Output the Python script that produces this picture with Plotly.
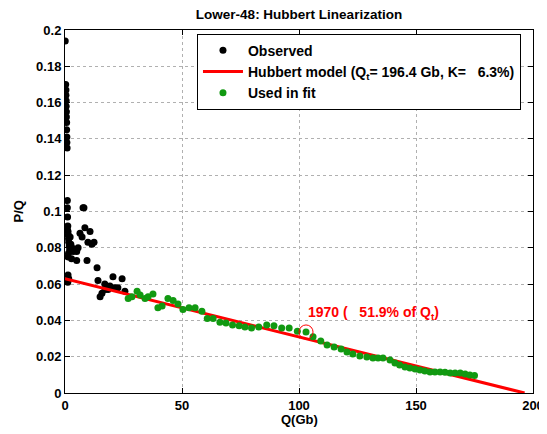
import plotly.graph_objects as go

# observed points not used in the fit (Q in Gb, P/Q)
obs_q = [0.1, 0.3, 0.4, 0.4, 0.5, 0.5, 0.6, 0.6, 0.7, 0.7, 0.8, 0.8, 0.9,
         1.0, 1.0, 1.1, 1.0, 1.2, 1.3, 1.4, 1.5, 1.6, 1.8, 2.0, 1.5, 1.2,
         2.5, 3.0, 2.2, 3.5, 4.2, 1.3, 1.1, 1.6, 1.2, 2.8,
         8.1, 7.7, 6.4, 8.5, 10.7, 7.3, 9.8, 12.4, 11.5, 5.6, 5.0, 9.4, 5.0,
         13.7, 14.1, 20.5, 24.4, 17.0, 19.2, 21.4, 22.6, 17.1, 15.8, 15.0,
         25.6, 18.4]
obs_pq = [0.194, 0.170, 0.167, 0.164, 0.161, 0.158, 0.155, 0.152, 0.149, 0.145, 0.141, 0.138, 0.135,
          0.106, 0.102, 0.097, 0.090, 0.092, 0.089, 0.087, 0.085, 0.083, 0.081, 0.079, 0.077, 0.075,
          0.082, 0.080, 0.086, 0.078, 0.079, 0.065, 0.062, 0.063, 0.061, 0.074,
          0.102, 0.102, 0.088, 0.091, 0.089, 0.086, 0.083, 0.083, 0.082, 0.080, 0.078, 0.073, 0.073,
          0.069, 0.062, 0.064, 0.063, 0.060, 0.059, 0.058, 0.058, 0.057, 0.055, 0.053,
          0.056, 0.057]

# points used in the fit
fit_q = [27.0, 28.6, 30.8, 32.1, 34.2, 35.5, 37.6, 39.7, 41.5, 44.0, 46.2, 48.3, 50.4,
         53.0, 55.6, 58.5, 60.8, 63.3, 66.2, 68.8, 71.6, 74.4, 76.9, 79.7, 82.8, 86.2,
         89.3, 92.6, 95.8, 99.3, 103.0, 106.0, 109.3, 112.0, 115.0, 118.0, 120.5, 123.0,
         126.0, 129.0, 131.6, 133.8, 135.9, 138.9, 141.0, 143.0, 145.3, 147.4, 149.6,
         151.7, 153.8, 156.0, 158.1, 160.3, 162.4, 164.6, 166.7, 168.9, 171.0, 173.0, 175.0]
fit_pq = [0.052, 0.053, 0.056, 0.054, 0.052, 0.053, 0.0545, 0.047, 0.048, 0.052, 0.051, 0.049, 0.046,
          0.047, 0.047, 0.045, 0.041, 0.041, 0.039, 0.0385, 0.0375, 0.037, 0.0363, 0.0358, 0.0364, 0.0374,
          0.037, 0.0358, 0.0358, 0.034, 0.0336, 0.031, 0.0287, 0.0264, 0.0253, 0.0242, 0.0226, 0.0215,
          0.0204, 0.0198, 0.0193, 0.0193, 0.0193, 0.0182, 0.0165, 0.0154, 0.0143, 0.0138, 0.0132,
          0.0127, 0.0121, 0.0116, 0.0116, 0.0116, 0.0114, 0.011, 0.011, 0.011, 0.0105, 0.0099, 0.0097]

# Hubbert model line
model_q = [0.0, 196.4]
model_pq = [0.063, 0.0]

peak_q, peak_pq = 103.0, 0.0336

# page body has an 8px margin, so the figure is sized to fit the window
W, H = 539, 426
L, R, T, B = 57, 14, 22, 41

FONT = dict(family="Liberation Sans, Arial, sans-serif", size=13, color="black", weight="bold")

fig = go.Figure()
fig.add_trace(go.Scatter(x=obs_q, y=obs_pq, mode="markers", name="Observed",
                         marker=dict(color="black", size=7)))
fig.add_trace(go.Scatter(x=model_q, y=model_pq, mode="lines",
                         name="Hubbert model (Q<sub>t</sub>= 196.4 Gb, K=\u00a0\u00a0 6.3%)",
                         line=dict(color="#ff0000", width=3)))
fig.add_trace(go.Scatter(x=fit_q, y=fit_pq, mode="markers", name="Used in fit",
                         marker=dict(color="#119911", size=7)))

fig.add_shape(type="circle", xref="x", yref="y",
              x0=peak_q - 3.0, x1=peak_q + 3.0, y0=peak_pq - 0.0039, y1=peak_pq + 0.0039,
              line=dict(color="#ff0000", width=1))
fig.add_annotation(x=peak_q, y=0.044, xanchor="left", yanchor="middle", showarrow=False,
                   text="1970 (\u00a0\u00a0 51.9% of Q<sub>t</sub>)",
                   font=dict(FONT, color="#ff0000", size=14))

# axis titles placed as annotations for exact positioning
fig.add_annotation(xref="paper", yref="paper", x=0.5, y=-26 / (H - T - B),
                   xanchor="center", yanchor="middle", showarrow=False,
                   text="Q(Gb)", font=FONT)
fig.add_annotation(xref="paper", yref="paper", x=-(L - 10) / (W - L - R), y=0.5,
                   xanchor="center", yanchor="middle", showarrow=False,
                   text="P/Q", textangle=-90, font=FONT)

axis = dict(showline=True, linecolor="black", linewidth=1, mirror="ticks",
            ticks="inside", ticklen=5, tickcolor="black", automargin=False,
            showgrid=True, gridcolor="#b0b0b0", griddash="dot", gridwidth=1,
            zeroline=False, tickfont=FONT)

fig.update_layout(
    width=W, height=H,
    margin=dict(l=L, r=R, t=T, b=B),
    paper_bgcolor="white", plot_bgcolor="white",
    font=FONT,
    title=dict(text="Lower-48: Hubbert Linearization", x=(L + W - R) / 2 / W, xanchor="center",
               y=1 - 6 / H, yanchor="middle", font=dict(FONT, size=13.5)),
    xaxis=dict(axis, range=[0, 200], tickvals=[0, 50, 100, 150, 200]),
    yaxis=dict(axis, range=[0, 0.2], tickvals=[i / 50 for i in range(11)],
               ticktext=["0", "0.02", "0.04", "0.06", "0.08", "0.1", "0.12", "0.14", "0.16", "0.18", "0.2"]),
    legend=dict(x=0.282, y=0.99, xanchor="left", yanchor="top",
                bgcolor="white", bordercolor="black", borderwidth=1,
                font=dict(FONT, size=14), itemwidth=40, tracegroupgap=0),
    showlegend=True,
)

fig.write_html("out.html")
